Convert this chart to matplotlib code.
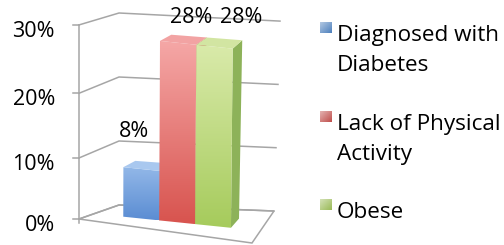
import numpy as np
import matplotlib
matplotlib.use("Agg")
import matplotlib.pyplot as plt
from matplotlib.patches import Polygon, Rectangle
from matplotlib.colors import to_rgb

plt.rcParams['font.family'] = ['Open Sans', 'DejaVu Sans']

categories = ['Diagnosed with\nDiabetes', 'Lack of Physical\nActivity', 'Obese']
values = [8, 28, 28]
labels = ['8%', '28%', '28%']
ticks = [0, 10, 20, 30]
tick_labels = ['0%', '10%', '20%', '30%']

# face colours: front top, front bottom, top face, side face
front_top = ['#93b8e8', '#f5a7a6', '#d9eaaa']
front_bot = ['#5b8dd3', '#d8544f', '#a6cb5c']
top_col = ['#a9c8ef', '#f2a3a3', '#d2e5a2']
side_col = ['#4f7fc2', '#c04945', '#8db259']
legend_col = ['#4f81bd', '#c0504d', '#9bbb59']

# pseudo-3d floor corners (pixels) and vertical scale
FL, FR, BL, BR = (79, 219), (252, 243), (119, 205), (274, 211)
K = {'FL': 5.92, 'FR': 5.92, 'BL': 6.4, 'BR': 6.33}
Q = {'FL': 0.0183, 'FR': 0.0183, 'BL': 0.0, 'BR': 0.0}


def bil(a, b, c, d, u, t):
    # a=FL b=FR c=BL d=BR
    return (1 - t) * ((1 - u) * a + u * b) + t * ((1 - u) * c + u * d)


def proj(u, t, v):
    x = bil(FL[0], FR[0], BL[0], BR[0], u, t)
    y = bil(FL[1], FR[1], BL[1], BR[1], u, t)
    k = bil(K['FL'], K['FR'], K['BL'], K['BR'], u, t)
    q = bil(Q['FL'], Q['FR'], Q['BL'], Q['BR'], u, t)
    x += 0.2 * v * u * t
    return x, y - (k * v + q * v * v)


fig = plt.figure(figsize=(5.04, 2.45), dpi=100)
ax = fig.add_axes([0, 0, 1, 1])
ax.set_xlim(0, 504)
ax.set_ylim(245, 0)
ax.axis('off')

grid = '#a6a6a6'
for v in ticks:
    pts = [proj(0, 0, v), proj(0, 1, v), proj(1, 1, v)]
    ax.plot([p[0] for p in pts], [p[1] for p in pts], color=grid, lw=1.1, zorder=1)
    x0, y0 = proj(0, 0, v)
    ax.plot([x0 - 6, x0], [y0, y0], color=grid, lw=1.1, zorder=1)
    ax.text(55, y0 + 12, tick_labels[ticks.index(v)], ha='right', va='baseline',
            fontsize=15.5, color='black')
a0 = proj(0, 0, 0)
a1 = proj(0, 0, ticks[-1])
ax.plot([a0[0], a1[0]], [a0[1] + 4, a1[1]], color=grid, lw=1.1, zorder=1)
floor = [proj(0, 0, 0), proj(1, 0, 0), proj(1, 1, 0), proj(0, 1, 0)]
ax.add_patch(Polygon(floor, closed=True, fill=False, ec=grid, lw=1.1, zorder=1))

z = [2]


def nextz():
    z[0] += 0.1
    return z[0]


def grad_face(poly, c_top, c_bot):
    poly = np.array(poly)
    patch = Polygon(poly, closed=True, fc='none', ec='none')
    ax.add_patch(patch)
    ct, cb = np.array(to_rgb(c_top)), np.array(to_rgb(c_bot))
    n = 64
    s = np.linspace(0, 1, n)[:, None]
    img = (ct * (1 - s) + cb * s)[:, None, :]
    im = ax.imshow(img, extent=(poly[:, 0].min(), poly[:, 0].max(),
                                poly[:, 1].max(), poly[:, 1].min()),
                   origin='upper', aspect='auto', interpolation='bilinear',
                   zorder=nextz())
    im.set_clip_path(patch)


u0, width = 0.175, 0.216
d0, d1 = 0.38, 0.70
label_off = [(-7, -38), (13, -25), (27, -29)]
for i, v in enumerate(values):
    ua, ub = u0 + i * width, u0 + (i + 1) * width
    side = [proj(ub, d0, 0), proj(ub, d1, 0), proj(ub, d1, v), proj(ub, d0, v)]
    ax.add_patch(Polygon(side, closed=True, fc=side_col[i], ec='none', zorder=nextz()))
    front = [proj(ua, d0, 0), proj(ub, d0, 0), proj(ub, d0, v), proj(ua, d0, v)]
    grad_face(front, front_top[i], front_bot[i])
    top = [proj(ua, d0, v), proj(ub, d0, v), proj(ub, d1, v), proj(ua, d1, v)]
    ax.add_patch(Polygon(top, closed=True, fc=top_col[i], ec='none', zorder=nextz()))
    cx, cy = proj((ua + ub) / 2, d0, v)
    ax.text(cx + label_off[i][0], cy + label_off[i][1], labels[i], ha='center',
            va='center', fontsize=15.5, color='black', zorder=10)

# legend
leg_y = [22, 111, 199]
for i, name in enumerate(categories):
    y = leg_y[i]
    c = np.array(to_rgb(legend_col[i]))
    light = c + (1 - c) * 0.55
    sq = Rectangle((320, y), 12, 11, fc='none', ec='none')
    ax.add_patch(sq)
    img = np.zeros((12, 12, 3))
    for r in range(12):
        for cc in range(12):
            s = (r + cc) / 22
            img[r, cc] = light * (1 - s) + c * s
    im = ax.imshow(img, extent=(320, 332, y + 11, y), origin='upper',
                   aspect='auto', interpolation='bilinear', zorder=5)
    im.set_clip_path(sq)
    lines = name.split('\n')
    for j, ln in enumerate(lines):
        ax.text(337, y + 19 + j * 29.5, ln, ha='left', va='baseline',
                fontsize=16.2, color='black')

fig.savefig('out.png', dpi=100)
